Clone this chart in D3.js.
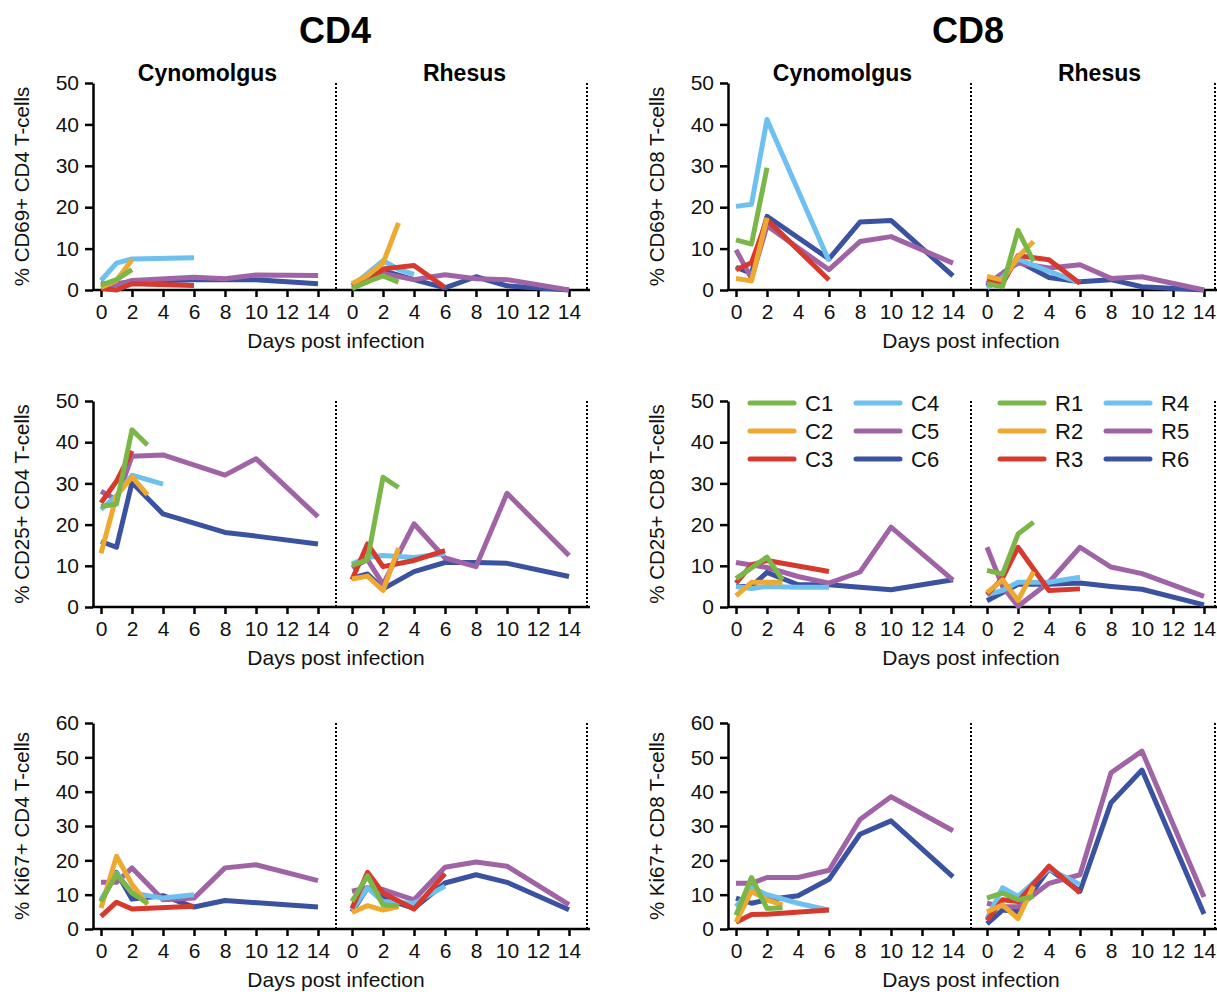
<!DOCTYPE html>
<html>
<head>
<meta charset="utf-8">
<script src="https://cdnjs.cloudflare.com/ajax/libs/d3/7.8.5/d3.min.js"></script>
<style>
  body { margin: 0; background: #fff; }
  svg { font-family: "Liberation Sans", Arial, sans-serif; }
</style>
</head>
<body>
<svg width="1217" height="994"></svg>
<script>
// animals + colours (same colour for C_i and R_i)
var cynoNames = ["C1", "C2", "C3", "C4", "C5", "C6"];
var rhesusNames = ["R1", "R2", "R3", "R4", "R5", "R6"];
var colors = ["#7ab648", "#eeaa30", "#d63a2e", "#6ec0ee", "#a064a6", "#3a52a0"];
var dayTicks = [0, 2, 4, 6, 8, 10, 12, 14];

// each series = [day, percent] pairs, order C1..C6 / R1..R6
var cd69cd4Cyno = [
  [[0,1.2],[1,2.5],[2,4.9]],
  [[0,0.6],[1,2.3],[2,7.3]],
  [[0,0.4],[1,0],[2,1.5],[6,1.1]],
  [[0,2.3],[1,6.5],[2,7.5],[6,7.8]],
  [[0,1],[1,1.2],[2,2.3],[6,3.1],[8,2.7],[10,3.6],[14,3.5]],
  [[0,1.5],[1,1.5],[2,2],[6,2.5],[10,2.5],[14,1.5]]
];
var cd69cd4Rhesus = [
  [[0,0.3],[1,2],[2,3.4],[3,1.9]],
  [[0,1.5],[1,3.5],[2,6.5],[3,16.2]],
  [[0,1],[1,2],[2,5.1],[4,5.9],[6,0.6]],
  [[0,1],[1,4],[2,7.1],[3,5],[4,3.8]],
  [[0,1],[2,4],[4,2.5],[6,3.7],[8,2.7],[10,2.5],[14,0]],
  [[0,1],[2,4.7],[4,2.5],[6,0.5],[8,3.2],[10,1],[14,0]]
];
var cd69cd8Cyno = [
  [[0,12.1],[1,11.1],[2,29.5]],
  [[0,2.8],[1,2.2],[2,17.4]],
  [[0,4.9],[1,6.6],[2,17],[6,2.4]],
  [[0,20.2],[1,20.7],[2,41.2],[6,7]],
  [[0,9.7],[1,2.8],[2,15.5],[6,4.9],[8,11.7],[10,12.9],[14,6.5]],
  [[0,5.5],[1,4],[2,17.8],[6,7.5],[8,16.4],[10,16.8],[14,3.4]]
];
var cd69cd8Rhesus = [
  [[0,1.5],[1,0.8],[2,14.4],[3,6.9]],
  [[0,3.3],[1,2.4],[2,8],[3,11.7]],
  [[0,2.5],[1,1.5],[2,8.3],[4,7.3],[6,1.6]],
  [[0,0.5],[1,3],[2,7.5],[4,4.5],[6,1.8]],
  [[0,1.5],[2,6.5],[4,5.3],[6,6.1],[8,2.8],[10,3.2],[14,0]],
  [[0,1],[2,7],[4,3],[6,2],[8,2.5],[10,0.8],[14,0]]
];
var cd25cd4Cyno = [
  [[0,24.4],[1,25],[2,43],[3,39.3]],
  [[0,13],[1,27],[2,31.6],[3,27.2]],
  [[0,25.3],[1,30.5],[2,37.9]],
  [[0,23.7],[1,27],[2,32],[4,29.8]],
  [[0,28.1],[1,26],[2,36.6],[4,36.9],[8,32],[10,36],[14,21.9]],
  [[0,15.9],[1,14.5],[2,30.2],[4,22.6],[8,18.1],[10,17.2],[14,15.3]]
];
var cd25cd4Rhesus = [
  [[0,10.1],[1,11.5],[2,31.5],[3,29]],
  [[0,6.8],[1,7.5],[2,4],[3,14.3]],
  [[0,6.6],[1,15.3],[2,9.8],[4,11.3],[6,13.7]],
  [[0,10.5],[1,12],[2,12.5],[4,12],[6,13]],
  [[0,9.5],[1,11.5],[2,5.5],[4,20.2],[6,11.9],[8,9.8],[10,27.6],[14,12.5]],
  [[0,7],[1,8],[2,4.4],[4,8.6],[6,10.8],[8,10.8],[10,10.6],[14,7.4]]
];
var cd25cd8Cyno = [
  [[0,6.9],[1,9.5],[2,12.1],[3,6.6]],
  [[0,2.7],[1,6],[2,6],[3,6]],
  [[0,5.8],[1,10.2],[2,11.3],[6,8.6]],
  [[0,5],[1,4.5],[2,5],[4,4.8],[6,4.8]],
  [[0,10.8],[2,9.6],[4,7.4],[6,5.8],[8,8.5],[10,19.4],[14,6.5]],
  [[0,5],[1,5],[2,8.4],[4,5.4],[6,5.4],[10,4.2],[14,6.6]]
];
var cd25cd8Rhesus = [
  [[0,8.9],[1,8],[2,17.7],[3,20.6]],
  [[0,3.5],[1,6.6],[2,1.6],[3,8.6]],
  [[0,3],[1,7],[2,14.5],[4,4],[6,4.4]],
  [[0,3],[1,4],[2,6],[4,6],[6,7.2]],
  [[0,14.5],[1,5],[2,0.2],[4,6],[6,14.5],[8,9.7],[10,8.1],[14,2.6]],
  [[0,1.5],[1,3.5],[2,5.5],[4,5.5],[6,5.8],[8,5],[10,4.3],[14,0.5]]
];
var ki67cd4Cyno = [
  [[0,8],[1,16],[2,10.5],[3,7.5]],
  [[0,6.1],[1,21.2],[2,13],[3,7.1]],
  [[0,3.7],[1,7.8],[2,5.8],[6,6.6]],
  [[0,8.5],[1,16.3],[2,10.5],[4,9],[6,10]],
  [[0,13.6],[1,13.6],[2,17.8],[4,8.5],[6,9],[8,17.8],[10,18.7],[14,14.1]],
  [[0,8],[1,16.5],[2,8.7],[4,9.7],[6,6.4],[8,8.3],[14,6.4]]
];
var ki67cd4Rhesus = [
  [[0,8],[1,15.5],[2,7],[3,6.8]],
  [[0,4.8],[1,6.8],[2,5.5],[3,6.5]],
  [[0,6],[1,16.5],[2,10.5],[4,5.8],[6,16.1]],
  [[0,5.5],[1,12],[2,8],[4,7.5],[6,12.5]],
  [[0,11],[1,12],[2,11.5],[4,8.5],[6,18],[8,19.5],[10,18.3],[14,7.1]],
  [[0,5],[1,12],[2,9],[4,6],[6,13.4],[8,15.8],[10,13.6],[14,5.6]]
];
var ki67cd8Cyno = [
  [[0,4],[1,15],[2,6],[3,6.2]],
  [[0,2],[1,11],[2,8.5],[3,7]],
  [[0,2],[1,4.2],[2,4.3],[6,5.5]],
  [[0,6.5],[1,12],[2,10],[4,7.5],[6,5.5]],
  [[0,13.3],[1,13.3],[2,15],[4,15],[6,17.1],[8,31.9],[10,38.5],[14,28.6]],
  [[0,9],[1,7.5],[2,8.5],[4,9.7],[6,14.5],[8,27.6],[10,31.5],[14,15.2]]
];
var ki67cd8Rhesus = [
  [[0,9],[1,10.5],[2,8.5],[3,9.5]],
  [[0,5],[1,7],[2,3],[3,12.5]],
  [[0,2.5],[1,8.5],[2,8],[4,18.3],[6,10.5]],
  [[0,3],[1,12],[2,9.5],[4,17.5],[6,13]],
  [[0,7.5],[1,6.5],[2,6.5],[4,13.3],[6,15.8],[8,45.5],[10,51.8],[14,9.3]],
  [[0,1.5],[1,5.5],[2,5],[4,17.5],[6,11],[8,36.8],[10,46.3],[14,4.4]]
];

var svg = d3.select("svg");

// panel layout: ax = x of y axis, yb/yt = pixel rows of 0 and max
var panels = [
  {c: cd69cd4Cyno, r: cd69cd4Rhesus, ax: 93,  yb: 290, yt: 83,  max: 50, lab: "% CD69+ CD4 T-cells", sub: true},
  {c: cd69cd8Cyno, r: cd69cd8Rhesus, ax: 728, yb: 290, yt: 83,  max: 50, lab: "% CD69+ CD8 T-cells", sub: true},
  {c: cd25cd4Cyno, r: cd25cd4Rhesus, ax: 93,  yb: 607, yt: 401, max: 50, lab: "% CD25+ CD4 T-cells"},
  {c: cd25cd8Cyno, r: cd25cd8Rhesus, ax: 728, yb: 607, yt: 401, max: 50, lab: "% CD25+ CD8 T-cells", legend: true},
  {c: ki67cd4Cyno, r: ki67cd4Rhesus, ax: 93,  yb: 929, yt: 723, max: 60, lab: "% Ki67+ CD4 T-cells"},
  {c: ki67cd8Cyno, r: ki67cd8Rhesus, ax: 728, yb: 929, yt: 723, max: 60, lab: "% Ki67+ CD8 T-cells"}
];

// big headers
svg.append("text").attr("x", 335).attr("y", 43).attr("text-anchor", "middle")
  .attr("font-size", 36).attr("font-weight", "bold").text("CD4");
svg.append("text").attr("x", 968).attr("y", 43).attr("text-anchor", "middle")
  .attr("font-size", 36).attr("font-weight", "bold").text("CD8");

panels.forEach(function(p) {
  var g = svg.append("g");
  var xC = d3.scaleLinear().domain([0, 14]).range([p.ax + 8, p.ax + 225]);
  var xR = d3.scaleLinear().domain([0, 14]).range([p.ax + 259, p.ax + 476]);
  var y = d3.scaleLinear().domain([0, p.max]).range([p.yb, p.yt]);
  var right = Math.min(p.ax + 497, 1217);

  // y axis
  var yAx = g.append("g")
    .attr("transform", "translate(" + p.ax + ",0)")
    .call(d3.axisLeft(y).tickValues(d3.range(0, p.max + 1, 10)).tickSize(8).tickPadding(6).tickSizeOuter(0));
  yAx.select(".domain").attr("stroke-width", 2.5);
  yAx.selectAll(".tick line").attr("stroke-width", 2.5);
  yAx.selectAll("text").attr("font-size", 21).attr("fill", "#111");

  // x axis line across both halves
  g.append("line").attr("x1", p.ax - 1).attr("x2", right)
    .attr("y1", p.yb).attr("y2", p.yb).attr("stroke", "#000").attr("stroke-width", 2.5);

  [xC, xR].forEach(function(x) {
    var xa = g.append("g")
      .attr("transform", "translate(0," + p.yb + ")")
      .call(d3.axisBottom(x).tickValues(dayTicks).tickSize(7).tickPadding(7));
    xa.select(".domain").remove();
    xa.selectAll(".tick line").attr("stroke-width", 2.5);
    xa.selectAll("text").attr("font-size", 21).attr("fill", "#111");
  });

  // dotted separators
  [p.ax + 243, Math.min(p.ax + 494, 1215)].forEach(function(xx) {
    g.append("line").attr("x1", xx).attr("x2", xx)
      .attr("y1", p.yt).attr("y2", p.yb)
      .attr("stroke", "#000").attr("stroke-width", 2).attr("stroke-dasharray", "2,2");
  });

  // titles
  g.append("text").attr("x", p.ax + 243).attr("y", p.yb + 58)
    .attr("text-anchor", "middle").attr("font-size", 21).attr("fill", "#111")
    .text("Days post infection");
  g.append("text")
    .attr("transform", "translate(" + (p.ax - 64) + "," + ((p.yb + p.yt) / 2) + ") rotate(-90)")
    .attr("text-anchor", "middle").attr("font-size", 20.5).attr("fill", "#111")
    .text(p.lab);
  if (p.sub) {
    g.append("text").attr("x", xC(7) - 2).attr("y", p.yt - 2).attr("text-anchor", "middle")
      .attr("font-size", 23).attr("font-weight", "bold").text("Cynomolgus");
    g.append("text").attr("x", xR(7) + 4).attr("y", p.yt - 2).attr("text-anchor", "middle")
      .attr("font-size", 23).attr("font-weight", "bold").text("Rhesus");
  }

  // data lines, C6 first so C1 ends on top
  [[p.c, xC], [p.r, xR]].forEach(function(pair) {
    var x = pair[1];
    var line = d3.line().x(function(d) { return x(d[0]); }).y(function(d) { return y(d[1]); });
    for (var i = 5; i >= 0; i--) {
      g.append("path").datum(pair[0][i])
        .attr("d", line)
        .attr("fill", "none")
        .attr("stroke", colors[i])
        .attr("stroke-width", 5)
        .attr("stroke-linejoin", "round");
    }
  });

  if (p.legend) {
    var groups = [[cynoNames, p.ax + 22], [rhesusNames, p.ax + 272]];
    groups.forEach(function(gr) {
      gr[0].forEach(function(name, i) {
        var col = Math.floor(i / 3), row = i % 3;
        var lx = gr[1] + col * 106;
        var ly = p.yt + 2 + row * 28;
        g.append("line").attr("x1", lx).attr("x2", lx + 44).attr("y1", ly).attr("y2", ly)
          .attr("stroke", colors[i]).attr("stroke-width", 5).attr("stroke-linecap", "round");
        g.append("text").attr("x", lx + 55).attr("y", ly).attr("dy", "0.36em")
          .attr("font-size", 22).attr("fill", "#111").text(name);
      });
    });
  }
});
</script>
</body>
</html>
